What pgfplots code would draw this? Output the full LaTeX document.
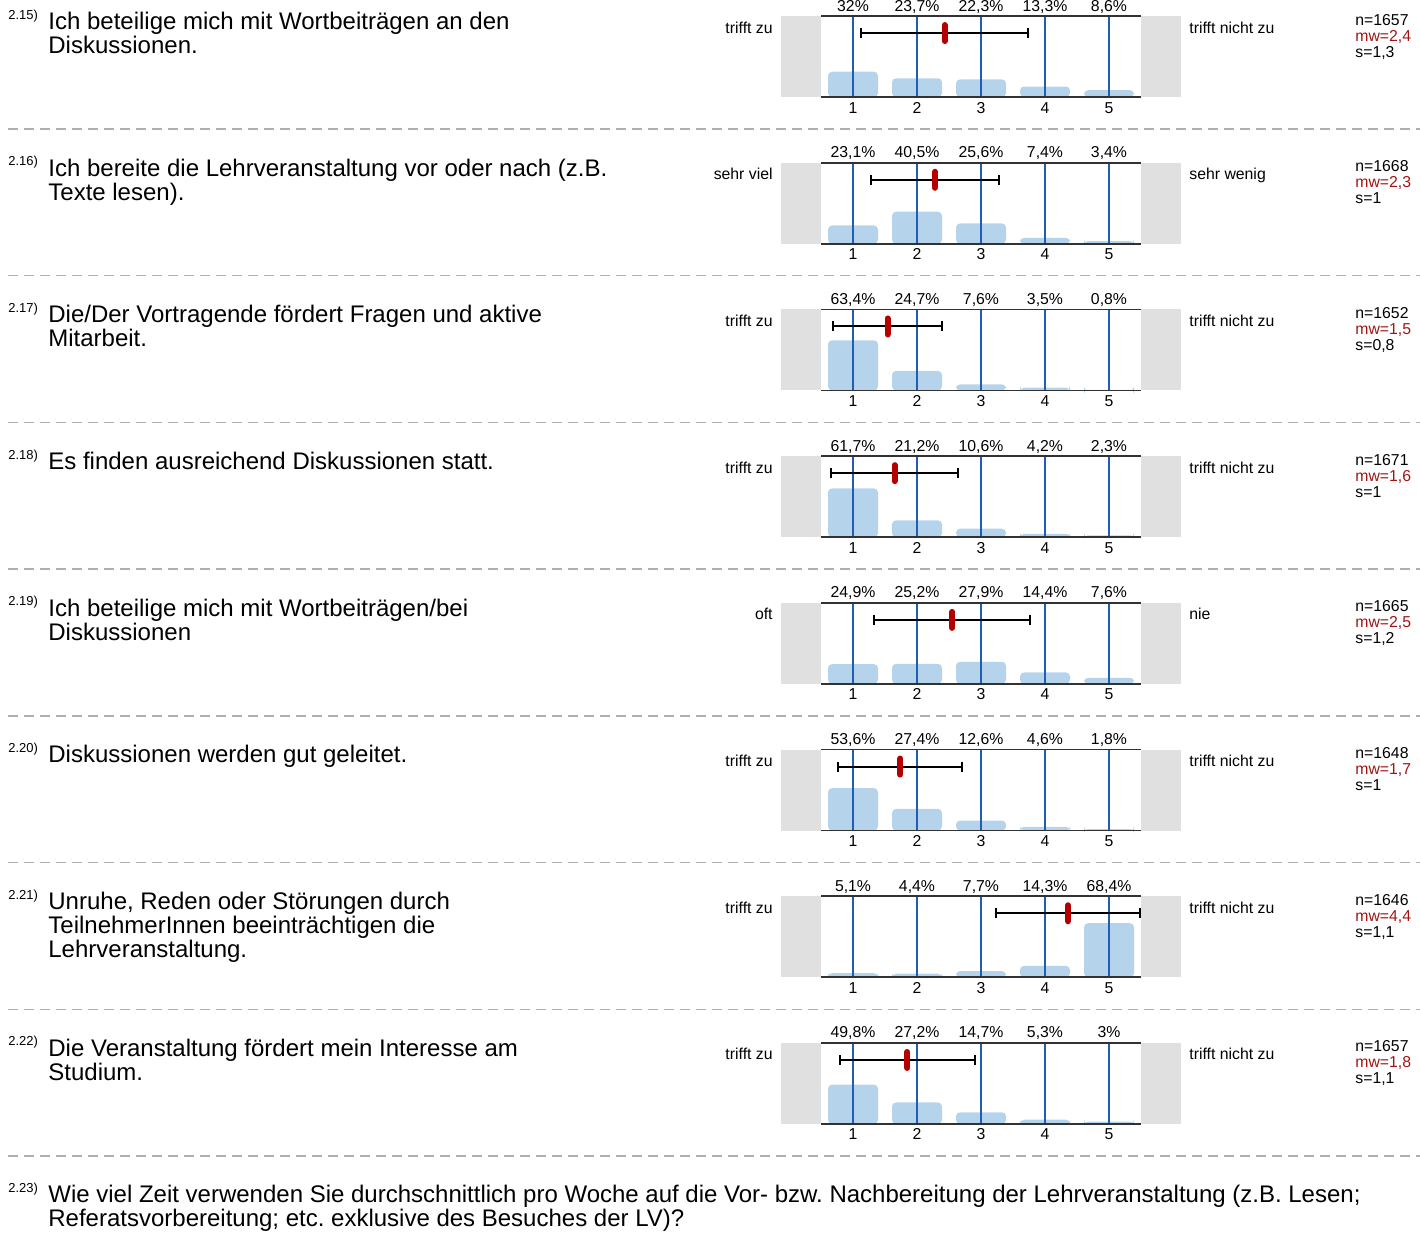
\documentclass[border=0pt]{standalone}
\usepackage{pgfplots}
\usepackage{pgfplotstable}
\pgfplotsset{compat=1.18}
\usepackage{fontspec}
\setmainfont{Liberation Sans}
\frenchspacing

\definecolor{barblue}{RGB}{181,212,236}
\definecolor{gridblue}{RGB}{30,95,180}
\definecolor{meanred}{RGB}{180,0,0}
\definecolor{mwred}{RGB}{160,20,20}
\definecolor{boxgray}{RGB}{224,224,224}
\definecolor{linegray}{RGB}{50,50,50}
\definecolor{sepgray}{RGB}{175,175,175}

\newcommand\smallfont{\fontsize{7.9}{8}\selectfont}
\newcommand\qfont{\fontsize{12}{12}\selectfont}
\newcommand\supfont{\fontsize{6.5}{7}\selectfont}

\pgfplotsset{
  /pgf/number format/assume math mode=true,
  panel/.style={
    scale only axis, width=160pt, height=40.5pt, anchor=south west,
    xmin=0.5, xmax=5.5, ymin=0, ymax=102.6,
    axis x line=box, axis y line=none,
    axis line style={draw=linegray, line width=0.8pt},
    xtick={1,2,3,4,5}, ytick=\empty, major tick length=0pt,
    xmajorgrids, grid style={draw=gridblue, line width=0.55pt},
    xticklabel style={font=\smallfont, anchor=base, yshift=-8pt},
    clip=false, set layers,
  },
  bars/.style={ybar, bar width=25pt, fill=barblue, draw=none,
    rounded corners=2pt, on layer=axis background},
  pct/.style={draw=none, mark=none, point meta=\thisrow{p},
    nodes near coords={\pgfmathprintnumber[fixed,precision=1,use comma]{\pgfplotspointmeta}\%},
    every node near coord/.style={font=\smallfont, anchor=base, yshift=2.5pt, inner sep=0pt}},
  sd/.style={draw=none, mark=none, error bars/.cd, x dir=both, x explicit,
    error bar style={draw=black, line width=1pt},
    error mark options={rotate=90, draw=black, mark size=2.5pt, line width=1pt}},
  mw/.style={only marks, mark=|, mark size=4pt,
    mark options={draw=meanred, line width=3pt, line cap=round}},
}

\newcommand\greyboxes{%
  \fill[boxgray] (rel axis cs:-0.125,0) rectangle (rel axis cs:0,1);
  \fill[boxgray] (rel axis cs:1,0) rectangle (rel axis cs:1.125,1);}

% percentages per answer 1..5
\pgfplotstableread{
x p
1 32
2 23.7
3 22.3
4 13.3
5 8.6
}\qa
\pgfplotstableread{
x p
1 23.1
2 40.5
3 25.6
4 7.4
5 3.4
}\qb
\pgfplotstableread{
x p
1 63.4
2 24.7
3 7.6
4 3.5
5 0.8
}\qc
\pgfplotstableread{
x p
1 61.7
2 21.2
3 10.6
4 4.2
5 2.3
}\qd
\pgfplotstableread{
x p
1 24.9
2 25.2
3 27.9
4 14.4
5 7.6
}\qe
\pgfplotstableread{
x p
1 53.6
2 27.4
3 12.6
4 4.6
5 1.8
}\qf
\pgfplotstableread{
x p
1 5.1
2 4.4
3 7.7
4 14.3
5 68.4
}\qg
\pgfplotstableread{
x p
1 49.8
2 27.2
3 14.7
4 5.3
5 3
}\qh

\begin{document}
\begin{tikzpicture}

\begin{axis}[panel, at={(410.5pt,-48.5pt)}]
\greyboxes
\addplot[bars] table[x=x,y=p] {\qa};
\addplot[pct] table[x=x,y expr=102.6] {\qa};
\addplot[sd] coordinates {(2.43,81) +- (1.3,0)};
\addplot[mw] coordinates {(2.43,81)};
\end{axis}

\begin{axis}[panel, at={(410.5pt,-121.85pt)}]
\greyboxes
\addplot[bars] table[x=x,y=p] {\qb};
\addplot[pct] table[x=x,y expr=102.6] {\qb};
\addplot[sd] coordinates {(2.28,81) +- (1.0,0)};
\addplot[mw] coordinates {(2.28,81)};
\end{axis}

\begin{axis}[panel, at={(410.5pt,-195.2pt)}]
\greyboxes
\addplot[bars] table[x=x,y=p] {\qc};
\addplot[pct] table[x=x,y expr=102.6] {\qc};
\addplot[sd] coordinates {(1.54,81) +- (0.85,0)};
\addplot[mw] coordinates {(1.54,81)};
\end{axis}

\begin{axis}[panel, at={(410.5pt,-268.55pt)}]
\greyboxes
\addplot[bars] table[x=x,y=p] {\qd};
\addplot[pct] table[x=x,y expr=102.6] {\qd};
\addplot[sd] coordinates {(1.65,81) +- (0.99,0)};
\addplot[mw] coordinates {(1.65,81)};
\end{axis}

\begin{axis}[panel, at={(410.5pt,-341.9pt)}]
\greyboxes
\addplot[bars] table[x=x,y=p] {\qe};
\addplot[pct] table[x=x,y expr=102.6] {\qe};
\addplot[sd] coordinates {(2.55,81) +- (1.22,0)};
\addplot[mw] coordinates {(2.55,81)};
\end{axis}

\begin{axis}[panel, at={(410.5pt,-415.25pt)}]
\greyboxes
\addplot[bars] table[x=x,y=p] {\qf};
\addplot[pct] table[x=x,y expr=102.6] {\qf};
\addplot[sd] coordinates {(1.74,81) +- (0.97,0)};
\addplot[mw] coordinates {(1.74,81)};
\end{axis}

\begin{axis}[panel, at={(410.5pt,-488.6pt)}]
\greyboxes
\addplot[bars] table[x=x,y=p] {\qg};
\addplot[pct] table[x=x,y expr=102.6] {\qg};
\addplot[sd] coordinates {(4.36,81) +- (1.12,0)};
\addplot[mw] coordinates {(4.36,81)};
\end{axis}

\begin{axis}[panel, at={(410.5pt,-561.95pt)}]
\greyboxes
\addplot[bars] table[x=x,y=p] {\qh};
\addplot[pct] table[x=x,y expr=102.6] {\qh};
\addplot[sd] coordinates {(1.85,81) +- (1.05,0)};
\addplot[mw] coordinates {(1.85,81)};
\end{axis}

% texts, in pixel units of the 1420x1233 page
\begin{scope}[x=0.5pt,y=-0.5pt, every node/.style={inner sep=0pt}]
\foreach \k in {0,...,7}
  \draw[sepgray, line width=0.7pt, dash pattern=on 5pt off 3pt]
    (8,129+146.7*\k) -- (1420,129+146.7*\k);

\foreach \k/\l/\r/\n/\m/\s in {
  0/{trifft zu}/{trifft nicht zu}/1657/{2,4}/{1,3},
  1/{sehr viel}/{sehr wenig}/1668/{2,3}/1,
  2/{trifft zu}/{trifft nicht zu}/1652/{1,5}/{0,8},
  3/{trifft zu}/{trifft nicht zu}/1671/{1,6}/1,
  4/oft/nie/1665/{2,5}/{1,2},
  5/{trifft zu}/{trifft nicht zu}/1648/{1,7}/1,
  6/{trifft zu}/{trifft nicht zu}/1646/{4,4}/{1,1},
  7/{trifft zu}/{trifft nicht zu}/1657/{1,8}/{1,1}}{
  \node[anchor=base east, font=\smallfont] at (773,33+146.7*\k) {\l};
  \node[anchor=base west, font=\smallfont] at (1189,33+146.7*\k) {\r};
  \node[anchor=base west, font=\smallfont] at (1355,25+146.7*\k) {n=\n};
  \node[anchor=base west, font=\smallfont, text=mwred] at (1355,41+146.7*\k) {mw=\m};
  \node[anchor=base west, font=\smallfont] at (1355,57+146.7*\k) {s=\s};
}
\foreach \k/\num in {0/2.15,1/2.16,2/2.17,3/2.18,4/2.19,5/2.20,6/2.21,7/2.22,8/2.23}
  \node[anchor=base west, font=\supfont] at (8,19+146.7*\k) {\num)};

\node[anchor=base west, font=\qfont] at (48,29.3) {Ich beteilige mich mit Wortbeiträgen an den};
\node[anchor=base west, font=\qfont] at (48,53.3) {Diskussionen.};
\node[anchor=base west, font=\qfont] at (48,176) {Ich bereite die Lehrveranstaltung vor oder nach (z.B.};
\node[anchor=base west, font=\qfont] at (48,200) {Texte lesen).};
\node[anchor=base west, font=\qfont] at (48,322.7) {Die/Der Vortragende fördert Fragen und aktive};
\node[anchor=base west, font=\qfont] at (48,346.7) {Mitarbeit.};
\node[anchor=base west, font=\qfont] at (48,469.4) {Es finden ausreichend Diskussionen statt.};
\node[anchor=base west, font=\qfont] at (48,616.1) {Ich beteilige mich mit Wortbeiträgen/bei};
\node[anchor=base west, font=\qfont] at (48,640.1) {Diskussionen};
\node[anchor=base west, font=\qfont] at (48,762.8) {Diskussionen werden gut geleitet.};
\node[anchor=base west, font=\qfont] at (48,909.5) {Unruhe, Reden oder Störungen durch};
\node[anchor=base west, font=\qfont] at (48,933.5) {TeilnehmerInnen beeinträchtigen die};
\node[anchor=base west, font=\qfont] at (48,957.5) {Lehrveranstaltung.};
\node[anchor=base west, font=\qfont] at (48,1056.2) {Die Veranstaltung fördert mein Interesse am};
\node[anchor=base west, font=\qfont] at (48,1080.2) {Studium.};
\node[anchor=base west, font=\qfont] at (48,1202.9) {Wie viel Zeit verwenden Sie durchschnittlich pro Woche auf die Vor- bzw. Nachbereitung der Lehrveranstaltung (z.B. Lesen;};
\node[anchor=base west, font=\qfont] at (48,1226.9) {Referatsvorbereitung; etc. exklusive des Besuches der LV)?};
\end{scope}

\pgfresetboundingbox
\useasboundingbox (0pt,0pt) rectangle (710pt,-616.5pt);
\end{tikzpicture}
\end{document}
